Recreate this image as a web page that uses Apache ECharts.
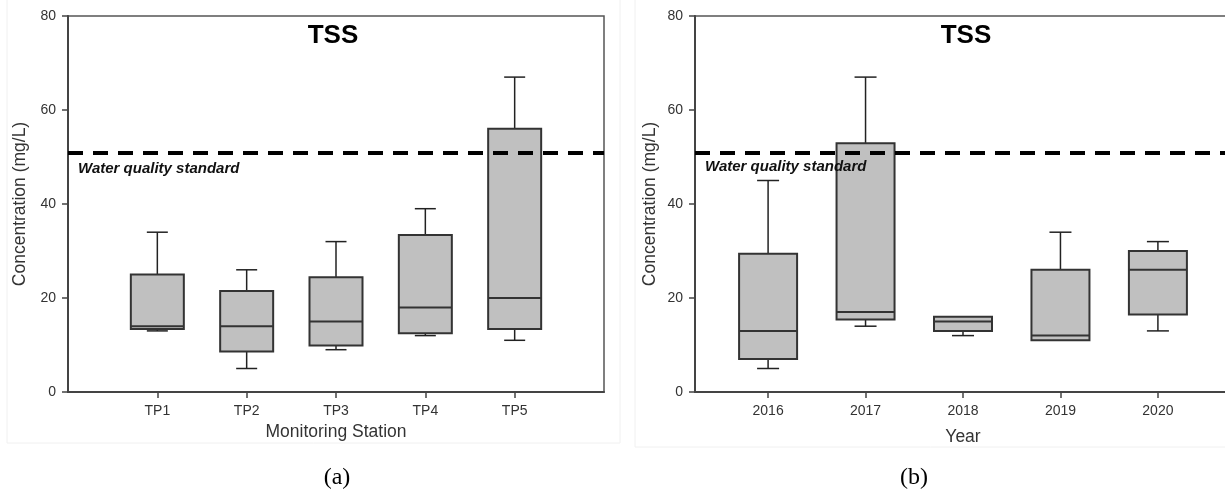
<!DOCTYPE html>
<html lang="en">
  <head>
    <meta charset="UTF-8" />
    <title>TSS box plots</title>
    <script src="https://cdn.jsdelivr.net/npm/echarts@6.0.0/dist/echarts.min.js"></script>
    <style>
      html, body { margin: 0; padding: 0; background: #fff; }
      #chart { width: 1225px; height: 491px; }
    </style>
  </head>
  <body>
    <div id="chart"></div>

    <script type="text/javascript">
      // categories, placed at x = 1..5 on each panel
      const stations = ["TP1", "TP2", "TP3", "TP4", "TP5"];
      const years = ["2016", "2017", "2018", "2019", "2020"];
      const slots = [1, 2, 3, 4, 5];

      // [min, q1, median, q3, max], mg/L
      const stationBoxes = [
        [13, 13.4, 14, 25, 34],
        [5, 8.6, 14, 21.5, 26],
        [9, 9.9, 15, 24.4, 32],
        [12, 12.5, 18, 33.4, 39],
        [11, 13.4, 20, 56, 67],
      ];
      const yearBoxes = [
        [5, 7, 13, 29.4, 45],
        [14, 15.4, 17, 52.9, 67],
        [12, 13, 15, 16, 16],
        [11, 11, 12, 26, 34],
        [13, 16.5, 26, 30, 32],
      ];

      const standard = 51; // water quality standard, mg/L
      const yTicks = [0, 20, 40, 60, 80];

      const FONT = "'Liberation Sans', Arial, sans-serif";

      // custom box renderer: whiskers with short caps, grey box, median line
      function boxRenderer(boxW, capW) {
        return function (params, api) {
          const x = api.value(0);
          const lo = api.value(1), q1 = api.value(2), med = api.value(3),
            q3 = api.value(4), hi = api.value(5);
          const cx = api.coord([x, med])[0];
          const yLo = api.coord([x, lo])[1];
          const yQ1 = api.coord([x, q1])[1];
          const yMed = api.coord([x, med])[1];
          const yQ3 = api.coord([x, q3])[1];
          const yHi = api.coord([x, hi])[1];
          const wStyle = { stroke: "#222", lineWidth: 1.5, fill: null };
          const children = [];
          if (hi > q3) {
            children.push({ type: "line", shape: { x1: cx, y1: yQ3, x2: cx, y2: yHi }, style: wStyle });
            children.push({ type: "line", shape: { x1: cx - capW / 2, y1: yHi, x2: cx + capW / 2, y2: yHi }, style: wStyle });
          }
          if (lo < q1) {
            children.push({ type: "line", shape: { x1: cx, y1: yQ1, x2: cx, y2: yLo }, style: wStyle });
            children.push({ type: "line", shape: { x1: cx - capW / 2, y1: yLo, x2: cx + capW / 2, y2: yLo }, style: wStyle });
          }
          children.push({
            type: "rect",
            shape: { x: cx - boxW / 2, y: yQ3, width: boxW, height: yQ1 - yQ3 },
            style: { fill: "#c0c0c0", stroke: "#333", lineWidth: 2 },
          });
          children.push({
            type: "line",
            shape: { x1: cx - boxW / 2, y1: yMed, x2: cx + boxW / 2, y2: yMed },
            style: { stroke: "#333", lineWidth: 2 },
          });
          return { type: "group", children: children };
        };
      }

      function toRows(boxes) {
        return boxes.map((b, i) => [slots[i]].concat(b));
      }

      // value axis with ticks and labels only at the category slots
      function xAxisFor(gridIndex, cats, name, gap, lo, hi) {
        return {
          type: "value",
          gridIndex: gridIndex,
          min: lo,
          max: hi,
          name: name,
          nameLocation: "middle",
          nameGap: gap,
          nameTextStyle: { fontSize: 17.5, color: "#333" },
          axisLine: { lineStyle: { color: "#444", width: 2 } },
          axisTick: {
            show: true,
            customValues: slots,
            length: 6,
            lineStyle: { color: "#444", width: 1.5 },
          },
          axisLabel: {
            customValues: slots,
            formatter: (v) => cats[Math.round(v) - 1],
            fontSize: 14,
            color: "#333",
            margin: 12,
          },
          splitLine: { show: false },
        };
      }

      function yAxisFor(gridIndex, gap) {
        return {
          type: "value",
          gridIndex: gridIndex,
          min: yTicks[0],
          max: yTicks[yTicks.length - 1],
          interval: yTicks[1] - yTicks[0],
          name: "Concentration (mg/L)",
          nameLocation: "middle",
          nameGap: gap,
          nameTextStyle: { fontSize: 17.5, color: "#333" },
          axisLine: { show: true, lineStyle: { color: "#444", width: 2 } },
          axisTick: { show: true, length: 6, lineStyle: { color: "#444", width: 1.5 } },
          axisLabel: { fontSize: 14, color: "#333", margin: 12 },
          splitLine: { show: false },
        };
      }

      function standardLine() {
        return {
          silent: true,
          symbol: "none",
          label: { show: false },
          lineStyle: { color: "#000", width: 4, type: [15, 10] },
          data: [{ yAxis: standard }],
        };
      }

      const chart = echarts.init(document.getElementById("chart"));

      const options = {
        animation: false,
        textStyle: { fontFamily: FONT },
        title: [
          { text: "TSS", left: 328, top: 18, textAlign: "center",
            textStyle: { fontSize: 26, fontWeight: "bold", color: "#000", fontFamily: FONT } },
          { text: "TSS", left: 961, top: 18, textAlign: "center",
            textStyle: { fontSize: 26, fontWeight: "bold", color: "#000", fontFamily: FONT } },
        ],
        grid: [
          { left: 68, top: 16, width: 536, height: 376, show: true, outerBoundsMode: "none",
            borderColor: "#555", borderWidth: 1.5, backgroundColor: "transparent" },
          // the right panel runs a little past the edge of the picture
          { left: 695, top: 16, width: 536, height: 376, show: true, outerBoundsMode: "none",
            borderColor: "#555", borderWidth: 1.5, backgroundColor: "transparent" },
        ],
        xAxis: [
          xAxisFor(0, stations, "Monitoring Station", 31, 0, 6),
          xAxisFor(1, years, "Year", 36, 0.25, 5.75),
        ],
        yAxis: [yAxisFor(0, 39), yAxisFor(1, 36)],
        series: [
          {
            type: "custom",
            xAxisIndex: 0,
            yAxisIndex: 0,
            renderItem: boxRenderer(53, 21),
            encode: { x: 0, y: [1, 2, 3, 4, 5] },
            data: toRows(stationBoxes),
            markLine: standardLine(),
            z: 2,
          },
          {
            type: "custom",
            xAxisIndex: 1,
            yAxisIndex: 1,
            renderItem: boxRenderer(58, 22),
            encode: { x: 0, y: [1, 2, 3, 4, 5] },
            data: toRows(yearBoxes),
            markLine: standardLine(),
            z: 2,
          },
        ],
        graphic: [
          // faint frames of the two panels
          { type: "rect", shape: { x: 7, y: -2, width: 613, height: 445 },
            style: { fill: null, stroke: "#f0f0f0", lineWidth: 1 }, silent: true, z: -1 },
          { type: "rect", shape: { x: 635, y: -2, width: 600, height: 449 },
            style: { fill: null, stroke: "#f0f0f0", lineWidth: 1 }, silent: true, z: -1 },
          { type: "text", x: 78, y: 169, z: 100,
            style: { text: "Water quality standard", font: "italic bold 15px " + FONT,
              fill: "#111", verticalAlign: "middle" } },
          { type: "text", x: 705, y: 167, z: 100,
            style: { text: "Water quality standard", font: "italic bold 15px " + FONT,
              fill: "#111", verticalAlign: "middle" } },
          { type: "text", x: 337, y: 478,
            style: { text: "(a)", font: "24px 'Liberation Serif', 'Times New Roman', serif",
              fill: "#000", align: "center", verticalAlign: "middle" } },
          { type: "text", x: 914, y: 478,
            style: { text: "(b)", font: "24px 'Liberation Serif', 'Times New Roman', serif",
              fill: "#000", align: "center", verticalAlign: "middle" } },
        ],
      };

      chart.setOption(options);
    </script>
  </body>
</html>
